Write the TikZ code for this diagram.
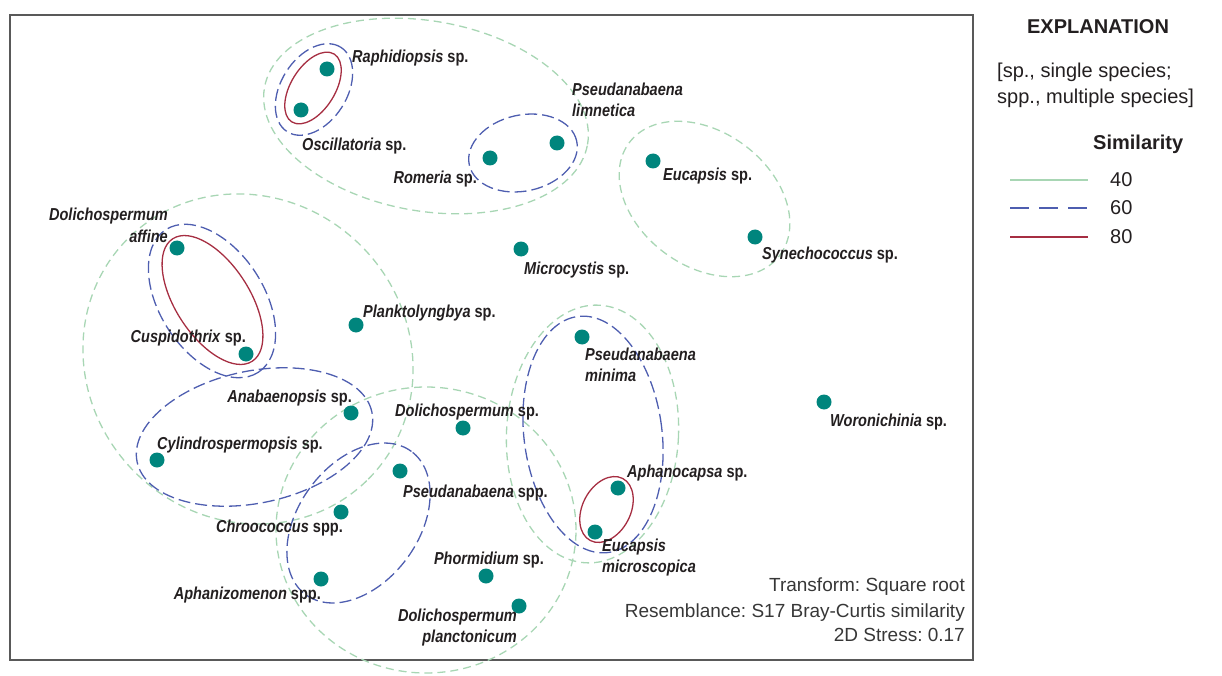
\documentclass[tikz,border=0pt]{standalone}
\usepackage{fontspec}
\setmainfont{Liberation Sans}
\newfontfamily\lblfont[FakeStretch=0.84]{Liberation Sans}
\definecolor{dotteal}{RGB}{0,133,125}
\definecolor{simgreen}{RGB}{168,214,180}
\definecolor{simblue}{RGB}{78,94,176}
\definecolor{simred}{RGB}{166,46,66}
\definecolor{inkgray}{RGB}{35,31,32}
\definecolor{notegray}{RGB}{55,55,55}
\frenchspacing

\begin{document}
\begin{tikzpicture}[x=1pt,y=1pt,
    dot/.style={circle,fill=dotteal,inner sep=0pt,minimum size=15pt},
    lbl/.style={font=\lblfont\bfseries\fontsize{17.3}{21}\selectfont,text=inkgray,inner sep=0pt},
    note/.style={font=\fontsize{19}{25}\selectfont,text=notegray,inner sep=0pt},
    keytext/.style={font=\fontsize{20}{26}\selectfont,text=inkgray,inner sep=0pt},
    sim40/.style={draw=simgreen,line width=1.3pt,dash pattern=on 8pt off 5pt},
    sim60/.style={draw=simblue,line width=1.3pt,dash pattern=on 12pt off 5pt},
    sim80/.style={draw=simred,line width=1.3pt}]
      \useasboundingbox (0,0) rectangle (1222,-676);
      \draw[line width=1.5pt,draw=black!65] (10,-15) rectangle (973,-660);

      % 40 % similarity
      \draw[sim40,rotate around={-10:(426,-116)}] (426,-116) ellipse (164pt and 95pt);
      \draw[sim40,rotate around={-36.7:(704.5,-199)}] (704.5,-199) ellipse (94pt and 67pt);
      \draw[sim40,rotate around={-45:(248,-359)}] (248,-359) ellipse (170pt and 160pt);
      \draw[sim40] (426,-530) ellipse (150pt and 143pt);
      \draw[sim40,rotate around={-3:(592.5,-434)}] (592.5,-434) ellipse (86pt and 129pt);

      % 60 % similarity
      \draw[sim60,rotate around={57.6:(314,-89.5)}] (314,-89.5) ellipse (50pt and 33pt);
      \draw[sim60,rotate around={12.6:(523,-153)}] (523,-153) ellipse (55pt and 38pt);
      \draw[sim60,rotate around={-57:(212,-301)}] (212,-301) ellipse (85pt and 52pt);
      \draw[sim60,rotate around={12:(254.5,-437)}] (254.5,-437) ellipse (120pt and 66pt);
      \draw[sim60,rotate around={53.5:(358.5,-523)}] (358.5,-523) ellipse (89pt and 60pt);
      \draw[sim60,rotate around={7.3:(593,-434.5)}] (593,-434.5) ellipse (69pt and 119pt);

      % 80 % similarity
      \draw[sim80,rotate around={58:(313,-88)}] (313,-88) ellipse (40pt and 22pt);
      \draw[sim80,rotate around={-57:(212.5,-300)}] (212.5,-300) ellipse (73pt and 37pt);
      \draw[sim80,rotate around={62.4:(606.5,-509.5)}] (606.5,-509.5) ellipse (35pt and 24pt);

      \node[dot] (raph) at (327,-69) {};
      \node[dot] (osc) at (301,-110) {};
      \node[dot] (rom) at (490,-158) {};
      \node[dot] (plim) at (557,-143) {};
      \node[dot] (euc) at (653,-161) {};
      \node[dot] (syn) at (755,-237) {};
      \node[dot] (mic) at (521,-249) {};
      \node[dot] (daff) at (177,-248) {};
      \node[dot] (cusp) at (246,-354) {};
      \node[dot] (plank) at (356,-325) {};
      \node[dot] (pmin) at (582,-337) {};
      \node[dot] (anab) at (351,-413) {};
      \node[dot] (dsp) at (463,-428) {};
      \node[dot] (wor) at (824,-402) {};
      \node[dot] (cyl) at (157,-460) {};
      \node[dot] (pspp) at (400,-471) {};
      \node[dot] (aphc) at (618,-488) {};
      \node[dot] (chro) at (341,-512) {};
      \node[dot] (emic) at (595,-532) {};
      \node[dot] (aphz) at (321,-579) {};
      \node[dot] (phor) at (486,-576) {};
      \node[dot] (dplan) at (519,-606) {};

      \node[lbl,anchor=base west] (raphl) at (352,-63) {\textit{Raphidiopsis} sp.};
      \node[lbl,anchor=base west] (oscl) at (302,-151) {\textit{Oscillatoria} sp.};
      \node[lbl,anchor=base east] (roml) at (477,-184) {\textit{Romeria} sp.};
      \node[lbl,anchor=base west,align=left] (pliml) at (572,-117) {\textit{Pseudanabaena}\\\textit{limnetica}};
      \node[lbl,anchor=base west] (eucl) at (663,-181) {\textit{Eucapsis} sp.};
      \node[lbl,anchor=base west] (synl) at (762,-259) {\textit{Synechococcus} sp.};
      \node[lbl,anchor=base west] (micl) at (524,-274) {\textit{Microcystis} sp.};
      \node[lbl,anchor=base east,align=right] (daffl) at (168,-242) {\textit{Dolichospermum}\\\textit{affine}};
      \node[lbl,anchor=base east] (cuspl) at (246,-342) {\textit{Cuspidothrix} sp.};
      \node[lbl,anchor=base west] (plankl) at (363,-317) {\textit{Planktolyngbya} sp.};
      \node[lbl,anchor=base west,align=left] (pminl) at (585,-381) {\textit{Pseudanabaena}\\\textit{minima}};
      \node[lbl,anchor=base east] (anabl) at (352,-402) {\textit{Anabaenopsis} sp.};
      \node[lbl,anchor=base west] (dspl) at (395,-416) {\textit{Dolichospermum} sp.};
      \node[lbl,anchor=base west] (worl) at (830,-426) {\textit{Woronichinia} sp.};
      \node[lbl,anchor=base west] (cyll) at (157,-449) {\textit{Cylindrospermopsis} sp.};
      \node[lbl,anchor=base west] (psppl) at (403,-497) {\textit{Pseudanabaena} spp.};
      \node[lbl,anchor=base west] (aphcl) at (627,-477) {\textit{Aphanocapsa} sp.};
      \node[lbl,anchor=base east] (chrol) at (343,-532) {\textit{Chroococcus} spp.};
      \node[lbl,anchor=base west,align=left] (emicl) at (602,-572) {\textit{Eucapsis}\\\textit{microscopica}};
      \node[lbl,anchor=base east] (aphzl) at (321,-599) {\textit{Aphanizomenon} spp.};
      \node[lbl,anchor=base east] (phorl) at (544,-564) {\textit{Phormidium} sp.};
      \node[lbl,anchor=base east,align=right] (dplanl) at (517,-642) {\textit{Dolichospermum}\\\textit{planctonicum}};

      \node[note,anchor=base east] (tform) at (965,-591) {Transform: Square root};
      \node[note,anchor=base east] (resem) at (965,-617) {Resemblance: S17 Bray-Curtis similarity};
      \node[note,anchor=base east] (stress) at (965,-641) {2D Stress: 0.17};

      \node[keytext,font=\bfseries\fontsize{20}{26}\selectfont] (expl) at (1098,-27) {EXPLANATION};
      \node[keytext,anchor=base west,align=left] (abbr) at (997,-104) {[sp., single species;\\spp., multiple species]};
      \node[keytext,font=\bfseries\fontsize{20}{26}\selectfont,anchor=base west] (simhd) at (1093,-150) {Similarity};
      \coordinate (k40a) at (1010,-180);
      \coordinate (k40b) at (1088,-180);
      \coordinate (k60a) at (1010,-208);
      \coordinate (k60b) at (1088,-208);
      \coordinate (k80a) at (1010,-237);
      \coordinate (k80b) at (1088,-237);
      \draw[simgreen,line width=2pt] (k40a) -- (k40b);
      \draw[simblue,line width=2pt,dash pattern=on 19pt off 10pt] (k60a) -- (k60b);
      \draw[simred,line width=2pt] (k80a) -- (k80b);
      \node[keytext,anchor=west] (n40) at (1110,-180) {40};
      \node[keytext,anchor=west] (n60) at (1110,-208) {60};
      \node[keytext,anchor=west] (n80) at (1110,-237) {80};
\end{tikzpicture}
\end{document}
